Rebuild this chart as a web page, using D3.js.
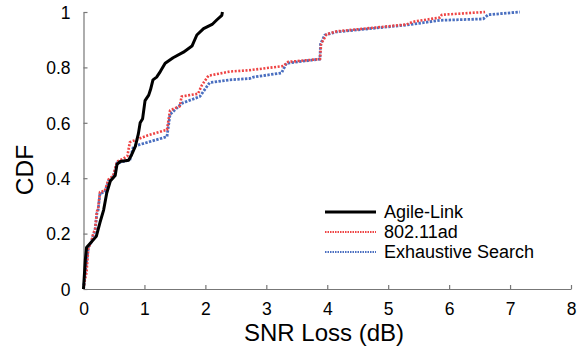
<!DOCTYPE html>
<html><head><meta charset="utf-8">
<script src="https://cdn.jsdelivr.net/npm/d3@7"></script>
<style>body{margin:0;background:#fff}svg{display:block}text{font-family:"Liberation Sans",Arial,sans-serif}</style>
</head><body><svg id="c" width="581" height="356"></svg>
<script>
const xTicks=[0,1,2,3,4,5,6,7,8];
const yTicks=[0,0.2,0.4,0.6,0.8,1];
const yTickLabels=["0","0.2","0.4","0.6","0.8","1"];
const seriesNames=["Agile-Link","802.11ad","Exhaustive Search"];
const agileX=[0,0.03,0.05,0.21,0.27,0.33,0.38,0.44,0.52,0.55,0.6,0.74,0.79,0.85,0.9,0.93,0.97,1.01,1.07,1.1,1.14,1.2,1.26,1.34,1.47,1.64,1.78,1.86,1.97,2.11,2.19,2.27,2.28];
const agileY=[0,0.105,0.15,0.19,0.24,0.285,0.345,0.39,0.41,0.45,0.46,0.465,0.485,0.515,0.56,0.6,0.615,0.68,0.7,0.72,0.755,0.765,0.785,0.815,0.835,0.855,0.877,0.917,0.94,0.955,0.972,0.988,1.0];
const adX=[0,0.02,0.05,0.08,0.13,0.16,0.19,0.22,0.24,0.27,0.35,0.41,0.49,0.55,0.65,0.72,0.76,1.06,1.37,1.42,1.58,1.61,1.88,1.94,2.05,2.4,2.73,3.28,3.36,3.88,3.9,3.99,4.15,5.3,5.41,5.85,5.88,6.59];
const adY=[0,0.03,0.06,0.15,0.17,0.2,0.215,0.28,0.29,0.35,0.355,0.395,0.41,0.46,0.47,0.48,0.53,0.555,0.575,0.645,0.66,0.695,0.705,0.735,0.77,0.785,0.79,0.805,0.82,0.83,0.885,0.92,0.93,0.955,0.965,0.98,0.99,1.0];
const exX=[0,0.02,0.04,0.08,0.13,0.16,0.19,0.22,0.24,0.27,0.35,0.41,0.49,0.55,0.65,0.76,0.82,1.06,1.37,1.42,1.61,1.91,2.07,2.4,2.73,2.79,3.25,3.33,3.88,3.89,3.96,4.15,5.3,5.85,6.56,6.64,7.16];
const exY=[0,0.04,0.08,0.15,0.17,0.195,0.213,0.273,0.285,0.345,0.35,0.39,0.405,0.455,0.46,0.465,0.515,0.53,0.55,0.63,0.67,0.695,0.745,0.755,0.76,0.765,0.78,0.815,0.83,0.885,0.917,0.928,0.953,0.97,0.975,0.99,1.0];

const svg=d3.select("#c");
const x=d3.scaleLinear().domain([0,8]).range([83.5,571]);
const y=d3.scaleLinear().domain([0,1]).range([289,12]);

const xa=svg.append("g").attr("transform","translate(0,289)")
  .call(d3.axisBottom(x).tickValues(xTicks).tickSizeInner(-4).tickSizeOuter(0).tickPadding(14).tickFormat(d3.format("d")));
const ya=svg.append("g").attr("transform","translate(83.5,0)")
  .call(d3.axisLeft(y).tickValues(yTicks).tickSizeInner(-4).tickSizeOuter(0).tickPadding(13).tickFormat((d,i)=>yTickLabels[i]));
[xa,ya].forEach(a=>{
  a.selectAll("path,line").attr("stroke","#777").attr("stroke-width",1.2);
  a.selectAll("text").attr("font-size",17.5).attr("fill","#000").attr("font-family","Liberation Sans, Arial, sans-serif");
});
xa.selectAll("text").attr("dy","0.71em");
ya.selectAll("text").attr("dy","0.36em");

svg.append("text").attr("x",324).attr("y",341).attr("text-anchor","middle").attr("font-size",24).text("SNR Loss (dB)");
svg.append("text").attr("transform","translate(33,170) rotate(-90)").attr("text-anchor","middle").attr("font-size",24.5).text("CDF");

const line=d3.line().x(d=>x(d[0])).y(d=>y(d[1]));
const styles=[
  {xs:agileX,ys:agileY,color:"#000",w:3,dash:null,lw:3},
  {xs:adX,ys:adY,color:"#ee4444",w:2.6,dash:"2,1.6",lw:1.8},
  {xs:exX,ys:exY,color:"#4a6fc0",w:2.8,dash:"2.4,1.4",lw:1.8}
];
[2,1,0].forEach(i=>{
  const s=styles[i];
  svg.append("path").datum(s.xs.map((v,j)=>[v,s.ys[j]]))
    .attr("d",line).attr("fill","none").attr("stroke",s.color).attr("stroke-width",s.w)
    .attr("stroke-dasharray",s.dash).attr("stroke-linejoin","round");
});
const leg=svg.append("g");
seriesNames.forEach((n,i)=>{
  const s=styles[i];const yy=212+i*20;
  leg.append("line").attr("x1",325).attr("x2",376).attr("y1",yy).attr("y2",yy)
    .attr("stroke",s.color).attr("stroke-width",s.lw).attr("stroke-dasharray",s.dash?"1.5,1":null);
  leg.append("text").attr("x",384).attr("y",yy).attr("dy","0.35em").attr("font-size",18).text(n);
});
</script></body></html>
